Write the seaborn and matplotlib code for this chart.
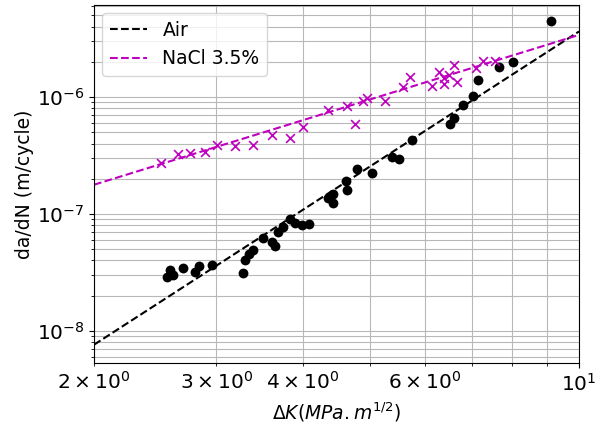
import numpy as np
import pandas as pd
import matplotlib
matplotlib.use("Agg")
import matplotlib.pyplot as plt
import seaborn as sns

# =====================================================
# DATA
# =====================================================

air_dk = [2.549, 2.574, 2.600, 2.688, 2.797, 2.834, 2.959, 3.280, 3.302, 3.346,
          3.390, 3.505, 3.611, 3.647, 3.684, 3.745, 3.833, 3.897, 3.989, 4.083,
          4.347, 4.420, 4.420, 4.615, 4.631, 4.787, 5.030, 5.376, 5.503, 5.745,
          6.518, 6.605, 6.805, 7.035, 7.152, 7.668, 8.032, 9.113]
air_dadn = [2.91e-8, 3.34e-8, 3.03e-8, 3.48e-8, 3.21e-8, 3.61e-8, 3.69e-8, 3.15e-8, 4.07e-8, 4.58e-8,
            4.95e-8, 6.27e-8, 5.80e-8, 5.36e-8, 7.06e-8, 7.79e-8, 9.12e-8, 8.42e-8, 8.10e-8, 8.26e-8,
            1.38e-7, 1.49e-7, 1.25e-7, 1.93e-7, 1.61e-7, 2.44e-7, 2.25e-7, 3.09e-7, 2.97e-7, 4.32e-7,
            5.91e-7, 6.65e-7, 8.59e-7, 1.03e-6, 1.41e-6, 1.82e-6, 2.00e-6, 4.49e-6]

nacl_dk = [2.498, 2.643, 2.750, 2.891, 3.008, 3.194, 3.390, 3.611, 3.833, 4.002,
           4.347, 4.631, 4.755, 4.883, 4.948, 5.253, 5.576, 5.707, 6.140, 6.284,
           6.389, 6.389, 6.496, 6.605, 6.671, 7.105, 7.272, 7.567]
nacl_dadn = [2.75e-7, 3.28e-7, 3.34e-7, 3.41e-7, 3.91e-7, 3.84e-7, 3.91e-7, 4.76e-7, 4.49e-7, 5.57e-7,
             7.79e-7, 8.43e-7, 5.91e-7, 9.30e-7, 9.86e-7, 9.30e-7, 1.23e-6, 1.49e-6, 1.25e-6, 1.65e-6,
             1.30e-6, 1.46e-6, 1.55e-6, 1.89e-6, 1.35e-6, 1.78e-6, 2.04e-6, 2.04e-6]

# fitted Paris-law lines (end points at dK = 2 and 10)
fit_dk = [2.0, 10.0]
air_fit = [7.6e-9, 3.65e-6]
nacl_fit = [1.78e-7, 3.41e-6]

air_df = pd.DataFrame({"dK": air_dk, "dadN": air_dadn})
nacl_df = pd.DataFrame({"dK": nacl_dk, "dadN": nacl_dadn})
fit_df = pd.DataFrame({"dK": fit_dk, "air": air_fit, "nacl": nacl_fit})

# =====================================================
# PLOT
# =====================================================

plt.rcParams["font.size"] = 13.5
plt.rcParams["xtick.labelsize"] = 14.5
plt.rcParams["ytick.labelsize"] = 14.5

fig, ax = plt.subplots(figsize=(6.08, 4.23), dpi=100)
fig.subplots_adjust(left=0.1546, right=0.9523, bottom=0.1418, top=0.9882)

sns.lineplot(data=fit_df, x="dK", y="air", color="k", linestyle="--",
             linewidth=1.5, label="Air", ax=ax)
sns.lineplot(data=fit_df, x="dK", y="nacl", color="m", linestyle="--",
             linewidth=1.5, label="NaCl 3.5%", ax=ax)

sns.scatterplot(data=air_df, x="dK", y="dadN", color="k", marker="o",
                s=50, edgecolor="k", linewidth=0, ax=ax, zorder=3)
sns.scatterplot(data=nacl_df, x="dK", y="dadN", color="m", marker="x",
                s=40, linewidth=1.2, ax=ax, zorder=3)

ax.set_xscale("log")
ax.set_yscale("log")
ax.set_xlim(2, 10)
ax.set_ylim(5.3e-9, 6.15e-6)

ax.grid(True, which="both", color="#b8b8b8", linewidth=0.8)
ax.set_axisbelow(True)

ax.set_xlabel(r"$\Delta K (MPa.m^{1/2})$")
ax.set_ylabel("da/dN (m/cycle)", labelpad=2)
ax.legend(loc="upper left", fontsize=13.5, borderaxespad=0.45)

plt.savefig("out.png", dpi=100)
plt.close()
